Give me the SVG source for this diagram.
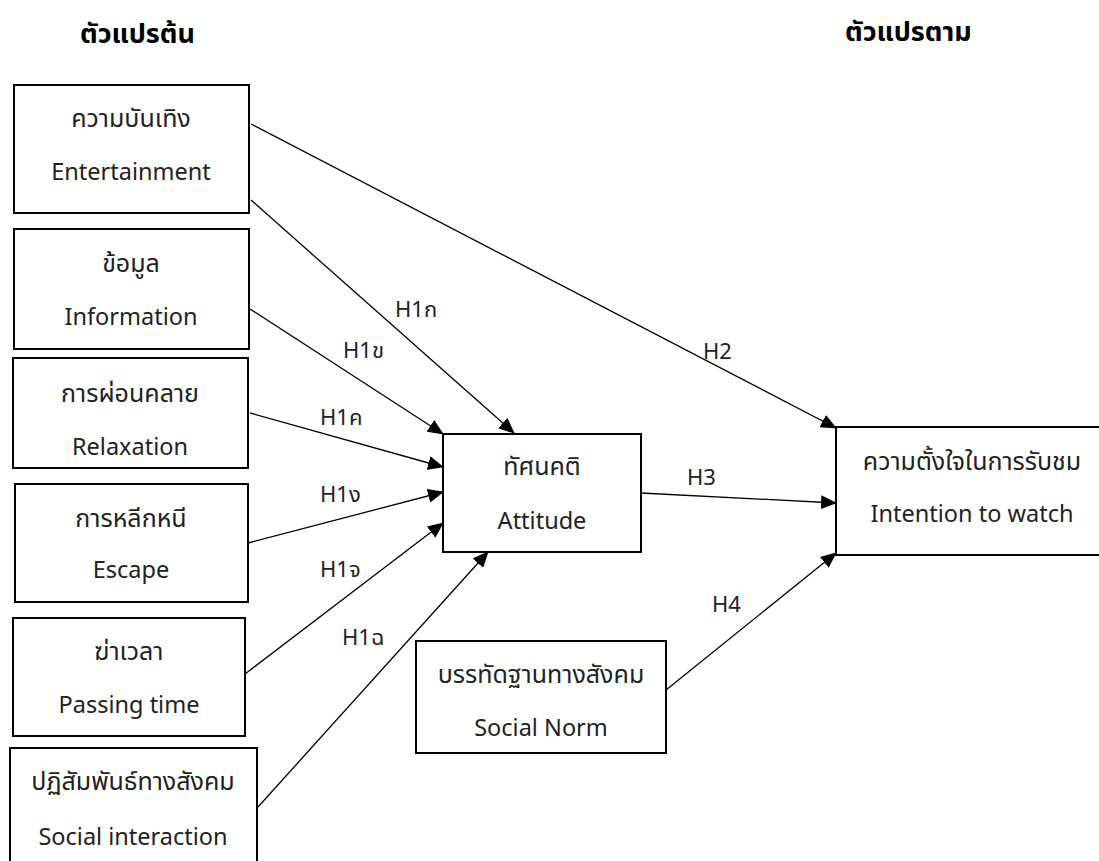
<svg xmlns="http://www.w3.org/2000/svg" width="1099" height="861" viewBox="0 0 1099 861">
<style>
text{font-family:"Noto Sans Thai","Noto Sans Thai UI","Open Sans","Noto Sans",sans-serif;fill:#222;font-size:23.5px}
.t{text-anchor:middle}
.th{font-size:25px}
.h{font-weight:bold;font-size:27px;fill:#000}
.box{fill:#fff;stroke:#000;stroke-width:2}
.c{stroke:#000;stroke-width:1.3;fill:none;marker-end:url(#ah)}
.l{font-size:22px}
</style>
<defs>
<marker id="ah" markerUnits="userSpaceOnUse" markerWidth="16" markerHeight="14" refX="15" refY="7" orient="auto">
<path d="M0,0 L16,7 L0,14 Z" fill="#000"/>
</marker>
</defs>
<rect width="1099" height="861" fill="#fff"/>
<text class="h" x="80" y="43">ตัวแปรต้น</text>
<text class="h" x="845" y="41">ตัวแปรตาม</text>
<g id="connectors">
<line class="c" x1="251" y1="124" x2="836" y2="428"/>
<line class="c" x1="251" y1="200" x2="514" y2="433"/>
<line class="c" x1="250" y1="309" x2="443" y2="434"/>
<line class="c" x1="250" y1="413" x2="443" y2="467"/>
<line class="c" x1="248" y1="543" x2="443" y2="492"/>
<line class="c" x1="245" y1="674" x2="443" y2="523"/>
<line class="c" x1="258" y1="807" x2="488" y2="552"/>
<line class="c" x1="641" y1="493" x2="836" y2="503"/>
<line class="c" x1="666" y1="690" x2="836" y2="553"/>
<text class="l" x="395" y="317">H1ก</text>
<text class="l" x="343" y="358">H1ข</text>
<text class="l" x="320" y="425">H1ค</text>
<text class="l" x="320" y="502">H1ง</text>
<text class="l" x="320" y="577">H1จ</text>
<text class="l" x="342" y="645">H1ฉ</text>
<text class="l" x="703" y="359">H2</text>
<text class="l" x="687" y="485">H3</text>
<text class="l" x="712" y="612">H4</text>
</g>
<g id="entertainment"><rect class="box" x="14" y="85" width="235" height="128"/><text class="t th" x="131" y="127">ความบันเทิง</text><text class="t" x="131" y="180">Entertainment</text></g>
<g id="information"><rect class="box" x="14" y="229" width="235" height="120"/><text class="t th" x="131" y="272">ข้อมูล</text><text class="t" x="131" y="325">Information</text></g>
<g id="relaxation"><rect class="box" x="13" y="358" width="235" height="110"/><text class="t th" x="130" y="402">การผ่อนคลาย</text><text class="t" x="130" y="455">Relaxation</text></g>
<g id="escape"><rect class="box" x="15" y="484" width="233" height="118"/><text class="t th" x="131" y="527">การหลีกหนี</text><text class="t" x="131" y="578">Escape</text></g>
<g id="passing"><rect class="box" x="13" y="618" width="232" height="118"/><text class="t th" x="129" y="660">ฆ่าเวลา</text><text class="t" x="129" y="713">Passing time</text></g>
<g id="social-interaction"><rect class="box" x="10" y="748" width="247" height="130"/><text class="t th" x="133" y="790">ปฏิสัมพันธ์ทางสังคม</text><text class="t" x="133" y="845">Social interaction</text></g>
<g id="attitude"><rect class="box" x="443" y="434" width="198" height="118"/><text class="t th" x="542" y="475">ทัศนคติ</text><text class="t" x="542" y="529">Attitude</text></g>
<g id="social-norm"><rect class="box" x="416" y="641" width="250" height="112"/><text class="t th" x="541" y="683">บรรทัดฐานทางสังคม</text><text class="t" x="541" y="736">Social Norm</text></g>
<g id="intention"><rect class="box" x="836" y="427" width="270" height="128"/><text class="t th" x="972" y="470">ความตั้งใจในการรับชม</text><text class="t" x="972" y="522">Intention to watch</text></g>
</svg>
